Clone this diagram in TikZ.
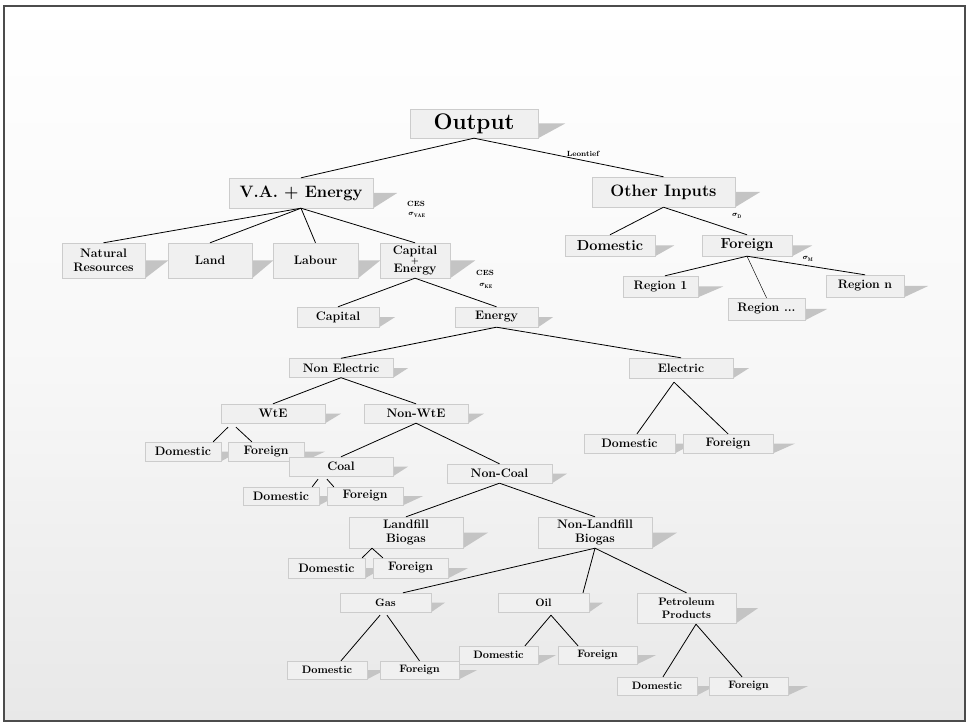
\documentclass[tikz,border=0pt]{standalone}
\usepackage{fontspec}
\usetikzlibrary{calc}
\pgfdeclarelayer{back}
\pgfdeclarelayer{shad}
\pgfsetlayers{back,shad,main}
\tikzset{
  bx/.style={draw=black!20, fill=black!6, inner sep=0pt, align=center, font=\bfseries},
  fA/.style={font=\bfseries\fontsize{22.5}{26}\selectfont},
  fB/.style={font=\bfseries\fontsize{16.5}{19}\selectfont},
  fC/.style={font=\bfseries\fontsize{14.5}{16}\selectfont},
  fD/.style={font=\bfseries\fontsize{12.3}{14.5}\selectfont},
  fE/.style={font=\bfseries\fontsize{10.8}{13}\selectfont},
  conn/.style={draw=black, line width=0.8pt},
  thinconn/.style={draw=black, line width=0.45pt},
  lab/.style={font=\bfseries\boldmath\fontsize{7.5}{8}\selectfont, inner sep=0pt},
  shadowfill/.style={fill=black!23},
}
\begin{document}
\begin{tikzpicture}[x=1pt,y=-1pt]
\useasboundingbox (0,0) rectangle (969,727);
\begin{pgfonlayer}{back}
  \fill[white] (0,0) rectangle (969,727);
  \shade[top color=white, bottom color=black!9, middle color=black!3] (4,6) rectangle (965,721);
  \draw[black!70, line width=1.5pt] (4,6) rectangle (965,721);
\end{pgfonlayer}

% nodes
\node[bx,fA,minimum width=128,minimum height=29] (out) at (474,123.5) {Output};
\node[bx,fB,minimum width=144,minimum height=30] (va) at (301,193) {V.A. + Energy};
\node[bx,fB,minimum width=143,minimum height=30] (oi) at (663.5,192) {Other Inputs};
\node[bx,fC,minimum width=90,minimum height=21] (odom) at (610,245.5) {Domestic};
\node[bx,fC,minimum width=90,minimum height=21] (ofor) at (747,245.5) {Foreign};
\node[bx,fD,minimum width=75,minimum height=21] (r1) at (660.5,286.5) {Region 1};
\node[bx,fD,minimum width=77,minimum height=22] (rd) at (766.5,309) {Region ...};
\node[bx,fD,minimum width=78,minimum height=22] (rn) at (865,286) {Region n};
\node[bx,fD,minimum width=83,minimum height=35] (nr) at (103.5,260.5) {Natural\\Resources};
\node[bx,fD,minimum width=84,minimum height=35] (land) at (210,260.5) {Land};
\node[bx,fD,minimum width=85,minimum height=35] (lab) at (315.5,260.5) {Labour};
\node[bx,fD,minimum width=70,minimum height=35] (ce) at (415,260.5) {Capital\\[-6pt]{\fontsize{8}{8}\selectfont +}\\[-5pt]Energy};
\node[bx,fD,minimum width=82,minimum height=20] (cap) at (338,317) {Capital};
\node[bx,fD,minimum width=83,minimum height=20] (en) at (496.5,317) {Energy};
\node[bx,fD,minimum width=104,minimum height=19] (ne) at (341,368) {Non Electric};
\node[bx,fD,minimum width=104,minimum height=20] (el) at (681,368) {Electric};
\node[bx,fD,minimum width=104,minimum height=19] (wte) at (273,413.5) {WtE};
\node[bx,fD,minimum width=104,minimum height=19] (nwte) at (416,413.5) {Non-WtE};
\node[bx,fD,minimum width=76,minimum height=19] (wdom) at (183,451.5) {Domestic};
\node[bx,fD,minimum width=76,minimum height=19] (wfor) at (266,451.5) {Foreign};
\node[bx,fD,minimum width=104,minimum height=19] (coal) at (341,466.5) {Coal};
\node[bx,fD,minimum width=105,minimum height=19] (ncoal) at (499.5,473.5) {Non-Coal};
\node[bx,fD,minimum width=76,minimum height=18] (cdom) at (281,496) {Domestic};
\node[bx,fD,minimum width=76,minimum height=18] (cfor) at (365,496) {Foreign};
\node[bx,fD,minimum width=114,minimum height=31] (lb) at (406,532.5) {Landfill\\Biogas};
\node[bx,fD,minimum width=114,minimum height=31] (nlb) at (595,532.5) {Non-Landfill\\Biogas};
\node[bx,fD,minimum width=77,minimum height=20] (ldom) at (326.5,568) {Domestic};
\node[bx,fD,minimum width=75,minimum height=20] (lfor) at (410.5,568) {Foreign};
\node[bx,fE,minimum width=91,minimum height=19] (gas) at (385.5,602.5) {Gas};
\node[bx,fE,minimum width=91,minimum height=19] (oil) at (543.5,602.5) {Oil};
\node[bx,fE,minimum width=99,minimum height=30] (pp) at (686.5,608) {Petroleum\\Products};
\node[bx,fE,minimum width=80,minimum height=18] (gdom) at (327,670) {Domestic};
\node[bx,fE,minimum width=79,minimum height=18] (gfor) at (419.5,670) {Foreign};
\node[bx,fE,minimum width=79,minimum height=18] (odm) at (498.5,655) {Domestic};
\node[bx,fE,minimum width=79,minimum height=18] (ofr) at (597.5,655) {Foreign};
\node[bx,fE,minimum width=80,minimum height=18] (pdom) at (657,686) {Domestic};
\node[bx,fE,minimum width=79,minimum height=18] (pfor) at (748.5,686) {Foreign};
\node[bx,fD,minimum width=91,minimum height=19] (edom) at (629.5,443.5) {Domestic};
\node[bx,fD,minimum width=90,minimum height=19] (efor) at (728,443.5) {Foreign};

% shadows
\begin{pgfonlayer}{shad}
\foreach \n/\w in {out/27,va/24,oi/25,odom/19,ofor/20,r1/25,rd/22,rn/24,nr/23,land/21,lab/22,ce/25,cap/16,en/15,ne/15,el/16,wte/16,nwte/16,wdom/18,wfor/21,coal/15,ncoal/15,cdom/18,cfor/20,lb/25,nlb/25,ldom/18,lfor/20,gas/14,oil/14,pp/22,gdom/18,gfor/18,odm/18,ofr/19,pdom/18,pfor/20,edom/18,efor/22}
  \fill[shadowfill] (\n.east) -- ++(\w,0) -- (\n.south east) -- cycle;
\end{pgfonlayer}

% connectors
\draw[conn] (out.south) -- (va.north);
\draw[conn] (out.south) -- (oi.north);
\foreach \c in {nr,land,lab,ce} \draw[conn] (va.south) -- (\c.north);
\draw[conn] (ce.south) -- (cap.north);
\draw[conn] (ce.south) -- (en.north);
\draw[conn] (en.south) -- (ne.north);
\draw[conn] (en.south) -- (el.north);
\draw[conn] (ne.south) -- (wte.north);
\draw[conn] (ne.south) -- (nwte.north);
\draw[conn] ($(wte.south)+(-45,4)$) -- ($(wdom.north east)+(-8,0)$);
\draw[conn] ($(wte.south)+(-37,4)$) -- ($(wfor.north west)+(24,0)$);
\draw[conn] (nwte.south) -- (coal.north);
\draw[conn] (nwte.south) -- (ncoal.north);
\draw[conn] ($(coal.south)+(-23,3)$) -- ($(cdom.north east)+(-7,0)$);
\draw[conn] ($(coal.south)+(-14,3)$) -- ($(cfor.north west)+(7,0)$);
\draw[conn] (ncoal.south) -- (lb.north);
\draw[conn] (ncoal.south) -- (nlb.north);
\draw[conn] ($(lb.south)+(-34,0)$) -- ($(ldom.north east)+(-3,0)$);
\draw[conn] ($(lb.south)+(-34,0)$) -- ($(lfor.north west)+(10,0)$);
\draw[conn] (nlb.south) -- ($(gas.north)+(17.5,0)$);
\draw[conn] (nlb.south) -- ($(oil.north)+(39.5,0)$);
\draw[conn] (nlb.south) -- (pp.north);
\draw[conn] ($(gas.south)+(-5.5,3)$) -- ($(gdom.north)+(14,0)$);
\draw[conn] ($(gas.south)+(1.5,3)$) -- (gfor.north);
\draw[conn] ($(oil.south)+(7.5,3)$) -- ($(odm.north)+(26.5,0)$);
\draw[conn] ($(oil.south)+(7.5,3)$) -- ($(ofr.north)+(-19.5,0)$);
\draw[conn] ($(pp.south)+(9.5,1)$) -- ($(pdom.north)+(6,0)$);
\draw[conn] ($(pp.south)+(9.5,1)$) -- ($(pfor.north)+(-6.5,0)$);
\draw[conn] ($(el.south)+(-7,4)$) -- ($(edom.north)+(7.5,0)$);
\draw[conn] ($(el.south)+(-7,4)$) -- (efor.north);
\draw[conn] (oi.south) -- (odom.north);
\draw[conn] (oi.south) -- (ofor.north);
\draw[conn] (ofor.south) -- ($(r1.north)+(4.5,0)$);
\draw[thinconn] (ofor.south) -- (rd.north);
\draw[conn] (ofor.south) -- (rn.north);

% labels
\node[lab] (leon) at (583,154) {Leontief};
\node[lab] (ces1) at (416,204) {CES};
\node[lab] (sig1) at (417,215) {$\sigma_{\mathrm{VAE}}$};
\node[lab] (ces2) at (485,273) {CES};
\node[lab] (sig2) at (486,286) {$\sigma_{\mathrm{KE}}$};
\node[lab] (sig3) at (737,216) {$\sigma_{\mathrm{D}}$};
\node[lab] (sig4) at (808,259) {$\sigma_{\mathrm{M}}$};
\end{tikzpicture}
\end{document}
